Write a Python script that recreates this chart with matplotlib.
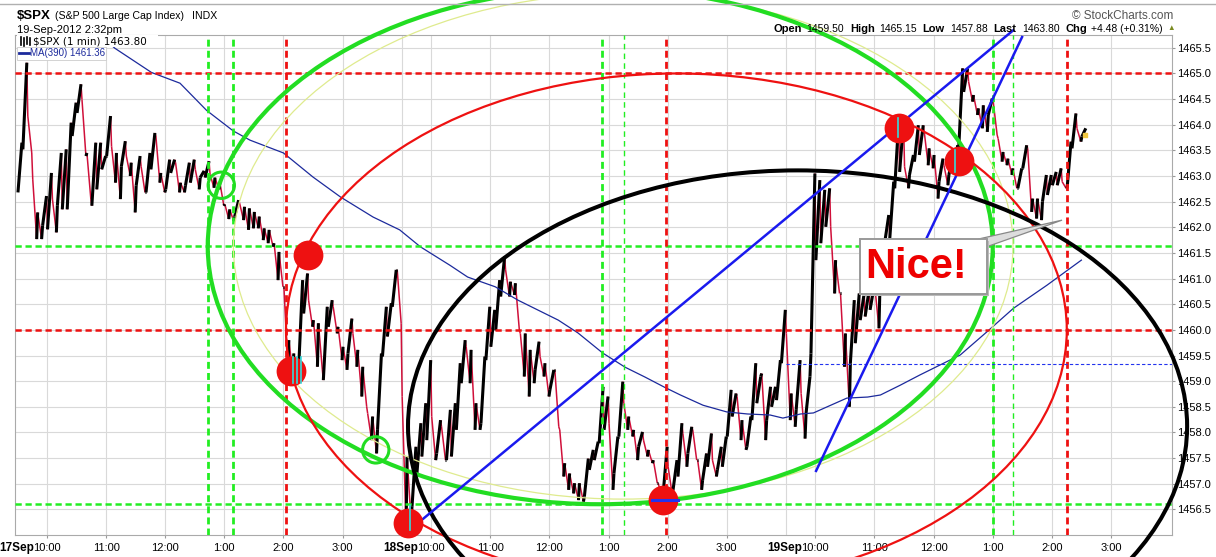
import matplotlib
matplotlib.use("Agg")
import matplotlib.pyplot as plt
from matplotlib.patches import Ellipse, Rectangle, Polygon
from matplotlib.collections import LineCollection
from matplotlib.lines import Line2D

plt.rcParams['font.family'] = ['Liberation Sans', 'DejaVu Sans']

W, H = 1216, 557

# ---- $SPX 1 min in 5 minute blocks (high / low of each block)
# x = minutes since 17-Sep 9:30, 390 minutes per session, sessions back to back
day1_high = [1463.65, 1465.21, 1464.17, 1462.94, 1462.29, 1462.61, 1463.06, 1462.55, 1463.45, 1463.52,
             1464.04, 1464.43, 1464.79, 1464.49, 1463.45, 1463.65, 1463.65, 1463.39, 1464.17, 1463.58,
             1463.45, 1463.68, 1463.39, 1463.26, 1463.39, 1463.19, 1463.45, 1463.84, 1463.78, 1463.06,
             1463.32, 1463.32, 1463.26, 1462.87, 1463.26, 1463.32, 1463.13, 1463.10, 1463.29, 1463.03,
             1462.97, 1462.87, 1462.45, 1462.35, 1462.53, 1462.47, 1462.40, 1462.37, 1462.30, 1462.21,
             1461.98, 1461.95, 1461.69, 1461.52, 1460.84, 1459.80, 1459.54, 1460.97, 1461.10, 1460.58,
             1460.19, 1460.13, 1460.45, 1460.58, 1460.45, 1460.06, 1459.67, 1460.22, 1459.93, 1459.61,
             1459.28, 1458.37, 1458.31, 1459.54, 1460.45, 1460.52, 1461.17, 1461.17]
day1_low = [1462.68, 1463.52, 1463.45, 1461.77, 1461.77, 1462.03, 1461.96, 1461.90, 1462.42, 1462.35,
            1462.35, 1463.78, 1464.23, 1463.39, 1462.55, 1462.42, 1462.74, 1463.13, 1463.39, 1462.87,
            1462.55, 1463.19, 1463.00, 1462.29, 1462.81, 1462.68, 1462.68, 1463.13, 1462.87, 1462.68,
            1462.74, 1463.06, 1462.68, 1462.68, 1462.81, 1462.87, 1462.74, 1462.97, 1462.97, 1462.77,
            1462.74, 1462.42, 1462.16, 1462.12, 1462.21, 1462.14, 1461.95, 1461.98, 1461.98, 1461.75,
            1461.69, 1461.62, 1460.97, 1460.84, 1459.22, 1459.15, 1459.15, 1459.28, 1460.32, 1460.06,
            1459.28, 1459.22, 1459.02, 1460.06, 1459.93, 1459.41, 1459.22, 1459.54, 1459.28, 1458.70,
            1458.50, 1457.85, 1457.59, 1458.05, 1459.48, 1459.87, 1460.45, 1460.13]
day2_high = [1458.70, 1457.53, 1457.72, 1458.18, 1458.57, 1459.41, 1458.31, 1458.24, 1458.11, 1458.44,
             1458.57, 1459.35, 1459.80, 1459.67, 1459.61, 1458.57, 1459.48, 1460.45, 1460.39, 1460.97,
             1461.43, 1461.17, 1460.94, 1460.91, 1459.93, 1459.93, 1459.61, 1459.77, 1459.48, 1459.35,
             1459.22, 1459.22, 1458.05, 1457.40, 1457.20, 1457.01, 1457.01, 1457.49, 1457.66, 1457.82,
             1458.89, 1458.70, 1458.18, 1457.92, 1458.99, 1458.57, 1458.31, 1458.05, 1458.01, 1457.85,
             1457.66, 1457.46, 1457.01, 1457.72, 1457.33, 1457.46, 1458.18, 1457.98, 1458.11, 1458.05,
             1457.46, 1457.59, 1457.98, 1457.46, 1457.72, 1457.92, 1458.83, 1458.76, 1458.70, 1458.24,
             1458.31, 1459.35, 1459.09, 1459.15, 1458.89, 1458.89, 1459.41, 1460.39]
day2_low = [1456.16, 1456.29, 1456.55, 1457.20, 1457.53, 1457.85, 1457.46, 1457.59, 1457.46, 1457.46,
            1457.53, 1458.05, 1458.96, 1458.96, 1458.05, 1458.05, 1458.18, 1459.41, 1459.67, 1459.99,
            1460.65, 1460.65, 1460.68, 1459.99, 1459.09, 1458.70, 1458.96, 1459.22, 1459.09, 1458.70,
            1458.83, 1458.11, 1457.14, 1456.88, 1456.81, 1456.68, 1456.65, 1456.75, 1457.27, 1457.46,
            1457.79, 1458.05, 1456.88, 1457.20, 1457.92, 1458.05, 1457.92, 1457.46, 1457.72, 1457.53,
            1457.40, 1457.01, 1456.68, 1456.81, 1456.81, 1456.88, 1457.14, 1457.33, 1457.59, 1457.46,
            1456.88, 1457.07, 1457.33, 1457.14, 1457.27, 1457.33, 1457.92, 1458.31, 1457.85, 1457.66,
            1457.72, 1458.24, 1458.57, 1457.85, 1458.24, 1458.50, 1458.63, 1459.35]
day3_high = [1459.93, 1458.76, 1459.41, 1458.76, 1459.09, 1463.05, 1462.92, 1462.73, 1462.76, 1462.01,
             1461.36, 1460.71, 1459.93, 1460.58, 1460.71, 1460.71, 1460.78, 1460.84, 1460.81, 1461.78,
             1462.24, 1462.89, 1464.06, 1464.06, 1463.18, 1463.41, 1463.99, 1463.99, 1463.86, 1463.54,
             1463.41, 1463.34, 1463.21, 1463.41, 1463.60, 1465.10, 1465.10, 1464.84, 1464.58, 1464.32,
             1464.38, 1464.51, 1464.45, 1463.73, 1463.47, 1463.34, 1463.15, 1463.15, 1463.60, 1463.54,
             1462.56, 1462.56, 1463.02, 1463.02, 1463.08, 1463.15, 1462.89, 1463.67, 1464.22, 1463.93,
             1463.93]
day3_low = [1458.24, 1458.11, 1458.44, 1457.88, 1458.37, 1459.54, 1461.36, 1461.69, 1462.01, 1460.71,
            1460.71, 1459.28, 1458.50, 1459.35, 1459.74, 1460.19, 1460.26, 1460.39, 1460.03, 1460.81,
            1461.72, 1461.78, 1462.76, 1463.08, 1462.76, 1463.02, 1463.28, 1463.41, 1463.21, 1463.15,
            1462.56, 1462.89, 1462.82, 1463.02, 1463.21, 1463.54, 1464.64, 1464.45, 1464.19, 1463.93,
            1463.86, 1464.19, 1463.80, 1463.28, 1463.21, 1463.02, 1462.76, 1462.76, 1463.15, 1462.30,
            1462.17, 1462.14, 1462.50, 1462.63, 1462.82, 1462.82, 1462.76, 1462.76, 1463.54, 1463.67,
            1463.77]
last_price = 1463.80

# MA(390)
ma_minute = [87, 99, 136, 165, 192, 219, 236, 270, 300, 328, 361, 388, 409, 439, 457, 485, 508, 549,
             569, 594, 617, 637, 657, 673, 696, 720, 741, 764, 777, 795, 808, 822, 842, 863, 876, 896,
             916, 957, 984, 1011, 1045, 1080]
ma_value = [1465.69, 1465.49, 1465.02, 1464.81, 1464.28, 1463.88, 1463.70, 1463.45, 1462.98, 1462.59,
            1462.20, 1461.95, 1461.62, 1461.26, 1461.03, 1460.84, 1460.58, 1460.19, 1459.94, 1459.55,
            1459.27, 1459.08, 1458.88, 1458.73, 1458.53, 1458.40, 1458.36, 1458.34, 1458.28, 1458.36,
            1458.38, 1458.50, 1458.67, 1458.69, 1458.73, 1458.92, 1459.12, 1459.51, 1459.96, 1460.42,
            1460.87, 1461.36]

days = ['17Sep', '18Sep', '19Sep']
hour_labels = ['10:00', '11:00', '12:00', '1:00', '2:00', '3:00']
price_ticks = [1456.5, 1457.0, 1457.5, 1458.0, 1458.5, 1459.0, 1459.5, 1460.0, 1460.5, 1461.0,
               1461.5, 1462.0, 1462.5, 1463.0, 1463.5, 1464.0, 1464.5, 1465.0, 1465.5]

# drawn annotations (minute, price)
red_hlines = [1465.0, 1460.0]
green_hlines = [1461.63, 1456.6]
red_vlines = [272.6, 658.4, 1065.2]
green_vlines_thick = [193.2, 219.2, 593.1, 990.1]
green_vlines_thin = [616.1, 1010.6]
red_dots_x = [295.0, 277.7, 396.5, 655.4, 895.0, 955.9]
red_dots_y = [1461.46, 1459.20, 1456.23, 1456.68, 1463.93, 1463.29]
green_rings_x = [206.9, 363.7]
green_rings_y = [1462.82, 1457.66]

fig = plt.figure(figsize=(W / 100, H / 100), dpi=100)
ax = fig.add_axes([15 / W, 1 - 535 / H, 1157 / W, 500 / H])
ax.set_xlim(-2.5, 1172)
ax.set_ylim(1456.0, 1465.75)


def px(x, y):
    return x / W, 1 - y / H


# ---- price trace: zigzag through each block's low/high
highs = day1_high + day2_high + day3_high
lows = day1_low + day2_low + day3_low
pts = []
prev = None
for i in range(len(highs)):
    m = 5 * i
    mid = (highs[i] + lows[i]) / 2
    if prev is None or mid >= prev:
        pts += [(m + 0.5, lows[i]), (m + 4.5, highs[i])]
    else:
        pts += [(m + 0.5, highs[i]), (m + 4.5, lows[i])]
    prev = mid
up, dn = [], []
for a, b in zip(pts[:-1], pts[1:]):
    if b[1] >= a[1]:
        up.append([a, b])
    else:
        dn.append([a, b])
ax.add_collection(LineCollection(dn, colors='#d0103a', linewidths=1.1, zorder=3))
ax.add_collection(LineCollection(up, colors='black', linewidths=2.2, zorder=3.1))
ax.scatter([5 * len(highs) - 1], [last_price], s=10, marker='s', color='#f0c840', zorder=3.2)

ax.plot(ma_minute, ma_value, color='#1c2a9c', lw=0.9, zorder=3.5)

# ---- axes, grid, ticks
hour_ticks = [d * 390 + 30 + 60 * j for d in range(3) for j in range(6)]
ax.set_xticks(hour_ticks)
ax.set_xticklabels(hour_labels * 3)
ax.set_xticks([390, 780], minor=True)
ax.set_yticks(price_ticks)
ax.set_yticklabels(['%.1f' % v for v in price_ticks])
ax.yaxis.tick_right()
ax.grid(True, which='both', color='#d9d9d9', lw=0.8, zorder=0)
ax.set_axisbelow(True)
ax.tick_params(axis='x', which='major', labelsize=8, length=2.5, pad=3, color='#999999')
ax.tick_params(axis='x', which='minor', length=0)
ax.tick_params(axis='y', labelsize=8, length=2, pad=1.5, color='#999999')
for s in ax.spines.values():
    s.set_color('#aaaaaa')
for d, name in enumerate(days):
    ax.annotate(name, xy=(d * 390 + 30, 0), xycoords=('data', 'axes fraction'),
                xytext=(-9.6, -9.6), textcoords='offset points', ha='right', va='center',
                fontsize=8.5, fontweight='bold')

# ---- dashed levels
dash = (0, (2.5, 1.5))
for v in red_hlines:
    ax.axhline(v, color='#ee1111', lw=1.8, ls=dash, zorder=4)
for v in green_hlines:
    ax.axhline(v, color='#22ee22', lw=1.8, ls=dash, zorder=4)
for v in red_vlines:
    ax.axvline(v, color='#ee1111', lw=2.0, ls=dash, zorder=4)
for v in green_vlines_thick:
    ax.axvline(v, color='#22ee22', lw=2.0, ls=dash, zorder=4)
for v in green_vlines_thin:
    ax.axvline(v, color='#22ee22', lw=1.0, ls=(0, (4, 3)), zorder=4)
ax.plot([780, 1172], [1459.33, 1459.33], color='#2233ee', lw=0.8, ls=(0, (3, 2)), zorder=4)

# ---- ellipses
ax.add_patch(Ellipse((614.9, 1461.63), 791.4, 9.86, fill=False, ec='#dfeb8e', lw=0.9, zorder=5, clip_on=False))
ax.add_patch(Ellipse((591.6, 1461.63), 796.9, 10.06, fill=False, ec='#22dd22', lw=3.0, zorder=5.1, clip_on=False))
ax.add_patch(Ellipse((668.9, 1460.0), 792.6, 10.0, fill=False, ec='#ee1111', lw=1.6, zorder=5.2, clip_on=False))
ax.add_patch(Ellipse((791.9, 1458.12), 790.9, 9.98, fill=False, ec='black', lw=2.9, zorder=5.3, clip_on=False))

# ---- trend lines
ax.plot([399.5, 1010.7], [1456.12, 1465.84], color='#1a1aee', lw=1.8, zorder=5.5, clip_on=False)
ax.plot([810.7, 1019.8], [1457.25, 1465.71], color='#1a1aee', lw=1.8, zorder=5.5, clip_on=False)

# ---- markers
ax.scatter(red_dots_x, red_dots_y, s=460, color='#ee1111', lw=0, zorder=6, clip_on=False)
ax.scatter(green_rings_x, green_rings_y, s=360, facecolors='none', edgecolors='#22dd22',
           lw=2.2, zorder=6, clip_on=False)
for x in [280.2, 284.2, 288.3]:
    ax.plot([x, x], [1459.47, 1458.96], color='#33dddd', lw=1.2, zorder=6.1)
ax.plot([398.5, 398.5], [1456.59, 1456.10], color='#33dddd', lw=1.2, zorder=6.1)
ax.plot([894, 894], [1464.13, 1463.76], color='#33dddd', lw=1.2, zorder=6.1)
ax.plot([951.8, 951.8], [1463.50, 1463.08], color='#33dddd', lw=1.2, zorder=6.1)
ax.plot([644.3, 670.6], [1456.68, 1456.68], color='#2233ee', lw=2.2, zorder=6.1)

# ---- callout
ax.add_patch(Polygon([(975.2, 1461.77), (1060.4, 1462.14), (985.3, 1461.63)], closed=True,
                     fc='#dddddd', ec='#888888', lw=0.9, zorder=7, clip_on=False))
ax.add_patch(Rectangle((857.4, 1460.66), 128.9, 1.07, fc='#bbbbbb', ec='none', zorder=7.1))
ax.add_patch(Rectangle((855.4, 1460.70), 128.9, 1.07, fc='white', ec='#999999', lw=1.4, zorder=7.2))
ax.text(912.3, 1461.23, 'Nice!', color='#ee0000', fontsize=30, fontweight='bold',
        ha='center', va='center', zorder=7.3)

# ---- legend
fig.patches.append(Rectangle(px(17, 47), 141 / W, 12 / H, transform=fig.transFigure,
                             fc='white', ec='none', zorder=8))
fig.patches.append(Rectangle(px(17, 60), 89 / W, 13 / H, transform=fig.transFigure,
                             fc='white', ec='#cccccc', lw=0.6, zorder=8))
for (x0, y0, y1) in [(21, 37, 45), (24, 38, 46), (27, 37, 44), (30, 38, 45)]:
    fig.lines.append(Line2D([x0 / W, x0 / W], [1 - y0 / H, 1 - y1 / H], transform=fig.transFigure,
                            color='black', lw=1.2, zorder=9))
fig.text(*px(33, 41.5), '$SPX (1 min) 1463.80', fontsize=7.5, family='DejaVu Sans',
         va='center', ha='left', zorder=9)
fig.lines.append(Line2D([19 / W, 29 / W], [1 - 53 / H, 1 - 53 / H], transform=fig.transFigure,
                        color='#1c2a9c', lw=2, zorder=9))
fig.text(*px(30, 53), 'MA(390) 1461.36', fontsize=7, color='#1c2a9c', va='center', ha='left', zorder=9)

# ---- header
fig.lines.append(Line2D([0, 1], [1 - 4 / H, 1 - 4 / H], transform=fig.transFigure, color='#b0b0b0', lw=1))
fig.text(*px(17, 16), '$SPX', fontsize=9.5, fontweight='bold', va='center')
fig.text(*px(55, 16), '(S&P 500 Large Cap Index)', fontsize=7.6, va='center')
fig.text(*px(192, 16), 'INDX', fontsize=7.6, va='center')
fig.text(*px(17, 30), '19-Sep-2012 2:32pm', fontsize=8, va='center')
fig.text(*px(1173, 16), '\u00a9 StockCharts.com', fontsize=8.5, color='#555555', va='center', ha='right')
quote = [('Open', 773, True), ('1459.50', 806, False), ('High', 850, True), ('1465.15', 879, False),
         ('Low', 922, True), ('1457.88', 950, False), ('Last', 993, True), ('1463.80', 1022, False),
         ('Chg', 1066, True), ('+4.48 (+0.31%)', 1091, False)]
for txt, x, bold in quote:
    fig.text(*px(x, 29), txt, fontsize=8 if bold else 7.5, fontweight='bold' if bold else 'normal',
             va='center', ha='left')
fig.text(*px(1167, 29), '\u25b2', fontsize=5.5, color='#7a8a20', va='center', ha='left')

fig.savefig('out.png', dpi=100)
